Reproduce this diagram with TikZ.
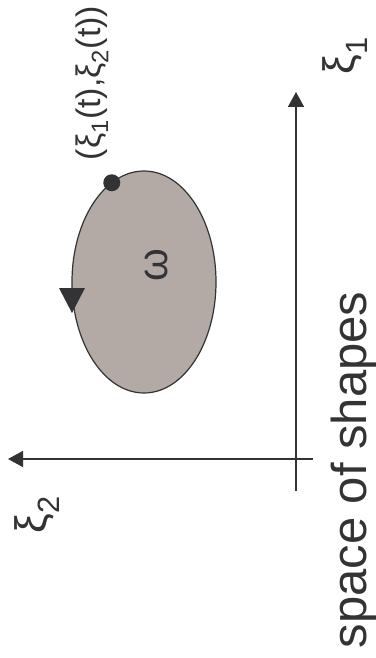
\documentclass[tikz,border=0pt]{standalone}
\usepackage{fontspec}
\setmainfont{Liberation Sans}
\usetikzlibrary{arrows.meta,shapes.geometric}
\definecolor{ink}{HTML}{333335}
\definecolor{blob}{HTML}{B3A9A5}
\begin{document}
\begin{tikzpicture}[x=1pt,y=-1pt,
  axis/.style={draw=ink,line width=1.6pt,-{Triangle[length=15pt,width=16pt]}},
  lbl/.style={rotate=90,text=ink,inner sep=0pt},
  blobshape/.style={ellipse,draw=ink,line width=1.2pt,fill=blob,minimum width=144pt,minimum height=222pt,inner sep=0pt,outer sep=0pt}]
\useasboundingbox (0,0) rectangle (375,658);
\coordinate (xb) at (296,491);
\coordinate (xe) at (296,92);
\coordinate (yb) at (313,459);
\coordinate (ye) at (8,459);
\draw[axis] (xb) -- (xe);
\draw[axis] (yb) -- (ye);
\node[blobshape] (om) at (144,282) {};
\node[lbl,font=\fontsize{42}{44}\selectfont] (w) at (156,265) {ω};
\fill[ink] (om.108) circle (8.5pt);
\fill[ink] (om.west) ++(-13,6) -- ++(26,0) -- ++(-13,25) -- cycle;
\node[lbl,font=\fontsize{34}{36}\selectfont] (pt) at (92,83) {(ξ\textsubscript{1}(t),ξ\textsubscript{2}(t))};
\node[lbl,font=\fontsize{44}{46}\selectfont] (x1) at (345,56) {ξ\textsubscript{1}};
\node[lbl,font=\fontsize{44}{46}\selectfont] (x2) at (37,515) {ξ\textsubscript{2}};
\node[lbl,anchor=base,font=\fontsize{49}{51}\selectfont] (title) at (366,470) {space of shapes};
\end{tikzpicture}
\end{document}
